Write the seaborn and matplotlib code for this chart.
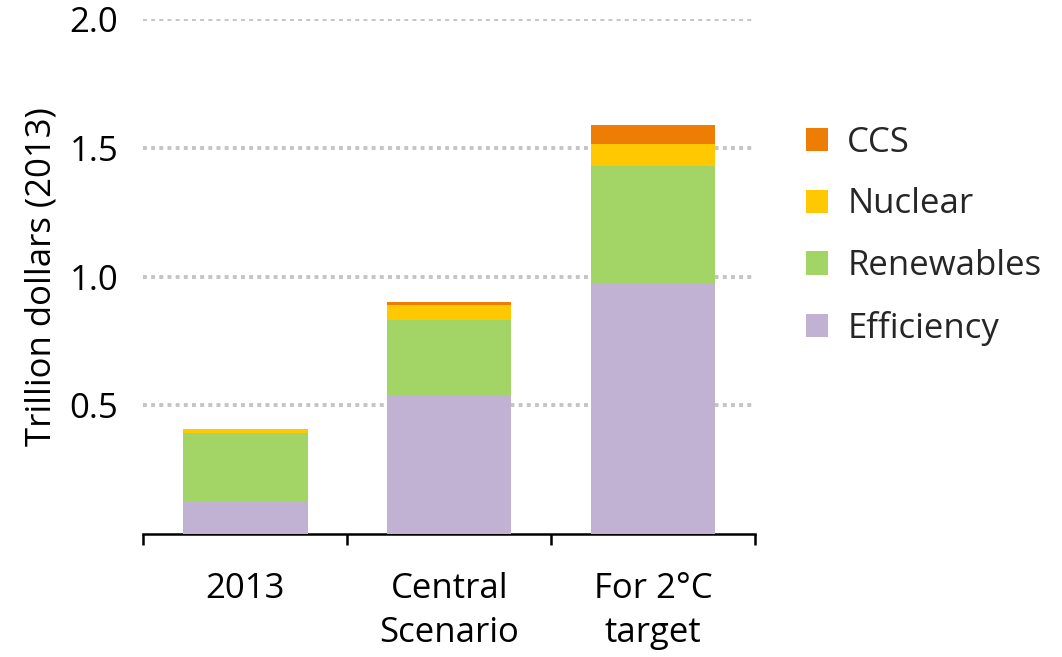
import numpy as np
import pandas as pd
import matplotlib
matplotlib.use("Agg")
import matplotlib.pyplot as plt
from matplotlib.patches import Patch
from matplotlib.ticker import FixedLocator
import seaborn as sns

categories = ["2013", "Central\nScenario", "For 2°C\ntarget"]
efficiency = [0.127, 0.54, 0.97]
renewables = [0.265, 0.29, 0.46]
nuclear = [0.016, 0.06, 0.085]
ccs = [0.0, 0.012, 0.073]

series_names = ["Efficiency", "Renewables", "Nuclear", "CCS"]
colors = {"Efficiency": "#c1b2d3", "Renewables": "#a2d565",
          "Nuclear": "#ffc800", "CCS": "#ed7d05"}

df = pd.DataFrame({"category": categories, "Efficiency": efficiency,
                   "Renewables": renewables, "Nuclear": nuclear, "CCS": ccs})
cum = df[series_names].cumsum(axis=1)

sns.set_theme(style="white")
plt.rcParams["font.family"] = ["Open Sans", "DejaVu Sans"]

fig, ax = plt.subplots(figsize=(10.62, 6.57), dpi=100)
fig.subplots_adjust(left=0.135, right=0.711, top=0.971, bottom=0.187)

# draw cumulative totals from top layer down so each layer shows as a stack segment
for name in reversed(series_names):
    sns.barplot(x=df["category"], y=cum[name], color=colors[name],
                width=0.61, saturation=1, linewidth=0, ax=ax, zorder=3)

ax.set_ylim(0, 2.0)
ax.set_xlim(-0.5, 2.5)
ax.set_yticks([0.5, 1.0, 1.5, 2.0])
ax.set_yticklabels(["0.5", "1.0", "1.5", "2.0"])
ax.yaxis.grid(True, color="#c4c4c4", linestyle=(0, (1, 1.1)), linewidth=2.8, zorder=0)
ax.xaxis.grid(False)
ax.set_axisbelow(True)

for s in ["top", "right", "left"]:
    ax.spines[s].set_visible(False)
ax.spines["bottom"].set_color("black")
ax.spines["bottom"].set_linewidth(1.8)

ax.xaxis.set_minor_locator(FixedLocator([-0.5, 0.5, 1.5, 2.5]))
ax.tick_params(axis="x", which="major", length=0, pad=27, labelsize=25, colors="black")
ax.tick_params(axis="x", which="minor", length=8, width=1.8, direction="out", color="black", bottom=True)
ax.tick_params(axis="y", length=0, pad=18, labelsize=25, colors="black")
for lab in ax.get_xticklabels():
    lab.set_linespacing(1.4)
ax.set_xlabel("")
ax.set_ylabel("Trillion dollars (2013)", fontsize=25, color="black", labelpad=8)

handles = [Patch(facecolor=colors[n], edgecolor="none", label=n) for n in reversed(series_names)]
ax.legend(handles=handles, loc="upper left", bbox_to_anchor=(1.06, 0.82),
          frameon=False, fontsize=25, handlelength=0.65, handleheight=0.65,
          handletextpad=0.55, labelspacing=0.8, borderaxespad=0)

fig.savefig("out.png", dpi=100)
